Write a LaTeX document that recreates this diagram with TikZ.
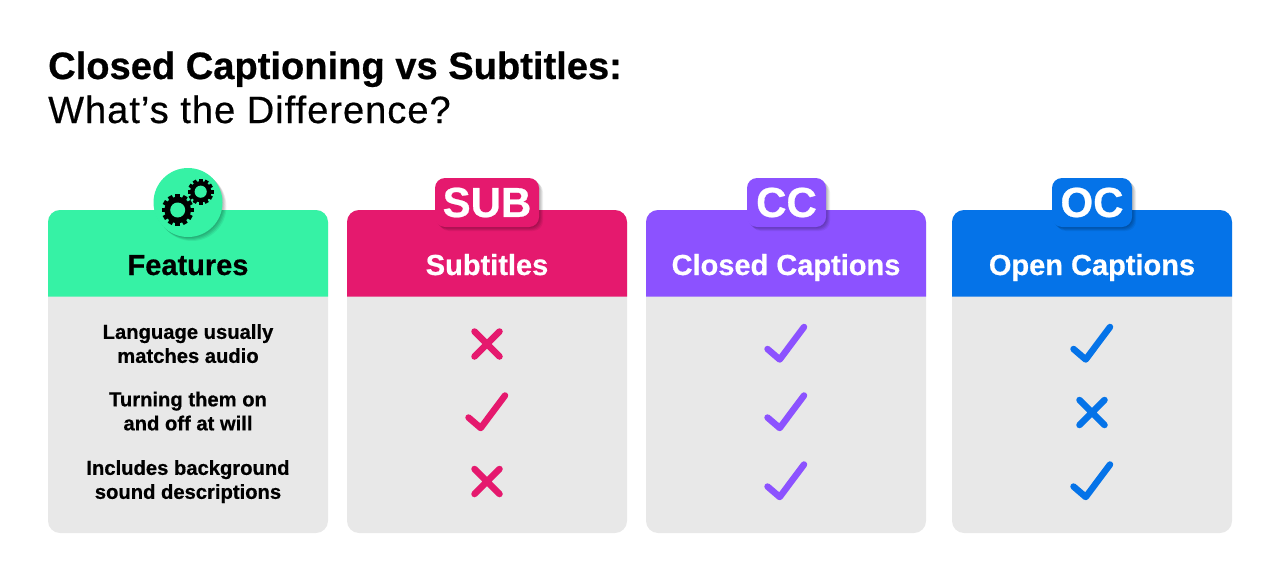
\documentclass[tikz,border=0pt]{standalone}
\usepackage{fontspec}
\setmainfont{Liberation Sans}
\newfontfamily\heavyfont[UprightFont=* Bold,FakeBold=0.6]{Liberation Sans}
\newfontfamily\titlemedium[FakeBold=0.5,LetterSpace=2.7]{Liberation Sans}
\usetikzlibrary{shadows}
\definecolor{featgreen}{HTML}{36F2A5}
\definecolor{subpink}{HTML}{E5196E}
\definecolor{ccpurple}{HTML}{8C52FF}
\definecolor{ocblue}{HTML}{0573E8}
\definecolor{panelgray}{HTML}{E8E8E8}
\tikzset{
	softshadow/.style={
		drop shadow={shadow xshift=1pt,shadow yshift=-1pt,fill=black,opacity=0.08},
		drop shadow={shadow xshift=2pt,shadow yshift=-2pt,fill=black,opacity=0.08},
		drop shadow={shadow xshift=3pt,shadow yshift=-3pt,fill=black,opacity=0.08},
		drop shadow={shadow xshift=4pt,shadow yshift=-4pt,fill=black,opacity=0.06}},
	badge/.style={fill=#1,rounded corners=10,softshadow,text=white,font=\fontsize{42}{42}\selectfont\heavyfont,inner sep=0,minimum height=49},
	headtext/.style={font=\fontsize{29}{29}\selectfont\heavyfont,inner sep=0,anchor=base},
	rowtext/.style={font=\fontsize{20.2}{24}\selectfont\heavyfont,align=center,inner sep=0,text depth=5pt},
	marksign/.style={draw=#1,line width=6.5,line cap=round,line join=round},
	check/.pic={\draw[marksign=#1] (-18.5,5) -- (-6.3,15.5) -- (18,-17);},
	cross/.pic={\draw[marksign=#1] (-12.5,-12.5) -- (12.5,12.5) (-12.5,12.5) -- (12.5,-12.5);},
	gear/.pic={
		\fill[black] (0,0) circle (13.2);
		\foreach \a in {0,30,...,330} {
			\fill[black,rotate=\a] (-2.3,-16) rectangle (2.3,-10);
		}
		\fill[featgreen] (0,0) circle (7.5);
	}
}
\begin{document}
\begin{tikzpicture}[x=1pt,y=-1pt]
	\useasboundingbox (0,0) rectangle (1280,586);
	% title
	\node[anchor=base west,inner sep=0,font=\fontsize{38.1}{38}\selectfont\heavyfont] (title1) at (48,79) {Closed Captioning vs Subtitles:};
	\node[anchor=base west,inner sep=0,font=\fontsize{38}{38}\selectfont\titlemedium] (title2) at (48,123) {What’s the Difference?};
	% panels
	\foreach \x/\col in {48/featgreen,347/subpink,646/ccpurple,952/ocblue} {
		\fill[panelgray,rounded corners=12] (\x,210) rectangle ++(280,323);
		\fill[\col] (\x,296.5) -- (\x,222) arc[start angle=180,end angle=270,radius=12]
			-- ++(256,0) arc[start angle=270,end angle=360,radius=12] -- ++(0,74.5) -- cycle;
	}
	% header labels
	\node[headtext,text=black] (head1) at (188,275) {Features};
	\node[headtext,text=white] (head2) at (487,275) {Subtitles};
	\node[headtext,text=white] (head3) at (786,275) {Closed Captions};
	\node[headtext,text=white] (head4) at (1092,275) {Open Captions};
	% badges
	\node[circle,fill=featgreen,softshadow,minimum size=69,inner sep=0] (gearbadge) at (188,202.5) {};
	\pic at (177.7,210) {gear};
	\pic[scale=0.81] at (200.7,191.7) {gear};
	\node[badge=subpink,minimum width=104] (subbadge) at (487,202.5) {SUB};
	\node[badge=ccpurple,minimum width=79] (ccbadge) at (786.5,202.5) {CC};
	\node[badge=ocblue,minimum width=80] (ocbadge) at (1092,202.5) {OC};
	% rows
	\node[rowtext] (row1) at (188,346) {Language usually\\matches audio};
	\node[rowtext] (row2) at (188,413.5) {Turning them on\\and off at will};
	\node[rowtext] (row3) at (188,482) {Includes background\\sound descriptions};
	% marks
	\foreach \x/\col/\a/\b/\c in {487/subpink/cross/check/cross,786/ccpurple/check/check/check,1092/ocblue/check/cross/check} {
		\pic at (\x,344) {\a=\col};
		\pic at (\x,412.5) {\b=\col};
		\pic at (\x,481.5) {\c=\col};
	}
\end{tikzpicture}
\end{document}
